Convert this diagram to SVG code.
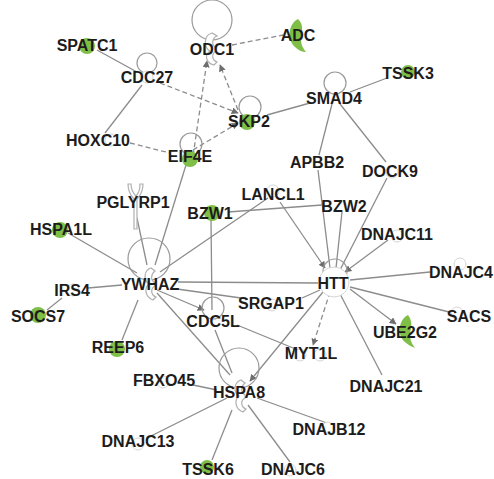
<svg xmlns="http://www.w3.org/2000/svg" width="494" height="479" viewBox="0 0 494 479">
<style>
.e{stroke:#8c8c8c;stroke-width:1.3;fill:none}
.d{stroke:#8c8c8c;stroke-width:1.3;fill:none;stroke-dasharray:5 3}
.a{marker-end:url(#arr)}
.loop{stroke:#9a9a9a;stroke-width:1.2;fill:none}
.ring{stroke:#d6d6d6;stroke-width:1;fill:#fff}
.g{fill:#7fbf48}
.sh{stroke:#b0b0b0;stroke-width:1.2;fill:#fff}
text{font-family:"Liberation Sans",Arial,sans-serif;font-weight:bold;font-size:16px;fill:#1c1c1c;text-anchor:middle}
</style>
<defs>
<marker id="arr" viewBox="0 0 10 10" refX="9" refY="5" markerWidth="7" markerHeight="7" orient="auto" markerUnits="userSpaceOnUse">
<path d="M0,0 L10,5 L0,10 z" fill="#6e6e6e"/>
</marker>
</defs>
<rect width="494" height="479" fill="#fff"/>
<g id="connectors">
<line class="e" x1="97" y1="50" x2="137" y2="72"/>
<line class="e" x1="142" y1="85" x2="105" y2="133"/>
<line class="d a" x1="160" y1="83" x2="238" y2="113"/>
<line class="d" x1="130" y1="143" x2="170" y2="153"/>
<line class="d a" x1="192" y1="163" x2="207" y2="61"/>
<line class="d a" x1="238" y1="110" x2="220" y2="65"/>
<line class="d a" x1="193" y1="150" x2="238" y2="123"/>
<line class="d" x1="232" y1="45" x2="283" y2="35"/>
<line class="e" x1="267" y1="115" x2="310" y2="103"/>
<line class="e" x1="350" y1="92" x2="387" y2="78"/>
<line class="e" x1="332" y1="104" x2="319" y2="155"/>
<line class="e" x1="340" y1="104" x2="386" y2="162"/>
<line class="e" x1="318" y1="170" x2="330" y2="268"/>
<line class="e" x1="387" y1="178" x2="340" y2="270"/>
<line class="e a" x1="388" y1="240" x2="345" y2="272"/>
<line class="e a" x1="280" y1="202" x2="325" y2="268"/>
<line class="e" x1="268" y1="198" x2="160" y2="272"/>
<line class="e" x1="228" y1="212" x2="322" y2="205"/>
<line class="e" x1="342" y1="212" x2="336" y2="268"/>
<line class="e" x1="211" y1="220" x2="212" y2="310"/>
<line class="e" x1="186" y1="165" x2="155" y2="265"/>
<line class="e" x1="137" y1="218" x2="147" y2="265"/>
<line class="e" x1="68" y1="233" x2="137" y2="273"/>
<line class="e" x1="88" y1="288" x2="122" y2="285"/>
<line class="e" x1="47" y1="310" x2="62" y2="298"/>
<line class="e" x1="178" y1="282" x2="318" y2="283"/>
<line class="e" x1="177" y1="289" x2="248" y2="299"/>
<line class="e" x1="302" y1="298" x2="320" y2="290"/>
<line class="e a" x1="157" y1="290" x2="204" y2="310"/>
<line class="e" x1="157" y1="293" x2="230" y2="375"/>
<line class="e" x1="138" y1="300" x2="122" y2="340"/>
<line class="e" x1="215" y1="330" x2="232" y2="373"/>
<line class="e" x1="237" y1="325" x2="298" y2="350"/>
<line class="d a" x1="330" y1="292" x2="313" y2="345"/>
<line class="e a" x1="323" y1="292" x2="250" y2="381"/>
<line class="e" x1="350" y1="280" x2="430" y2="272"/>
<line class="e" x1="350" y1="287" x2="453" y2="313"/>
<line class="e a" x1="350" y1="289" x2="396" y2="324"/>
<line class="e" x1="338" y1="290" x2="382" y2="375"/>
<line class="e" x1="193" y1="385" x2="217" y2="390"/>
<line class="e" x1="227" y1="398" x2="147" y2="438"/>
<line class="e" x1="232" y1="410" x2="212" y2="460"/>
<line class="e" x1="248" y1="405" x2="290" y2="462"/>
<line class="e" x1="257" y1="398" x2="327" y2="423"/>
</g>
<g id="ODC1"><circle class="loop" cx="212" cy="20" r="20"/><path class="sh" d="M212,33 c-8,2 -9,14 -2,18 c-6,4 -4,12 4,14 l3,-3 c-5,-2 -6,-8 -1,-11 l0,-3 c-5,-3 -4,-10 1,-12 z"/><text x="212" y="55">ODC1</text></g>
<g id="ADC"><path class="g" d="M298,19 C288,24 287,40 295,47 C298,50 302,52 306,52 C303,48 301,45 301,40 C301,34 305,25 298,19 z"/><text x="298" y="41">ADC</text></g>
<g id="SPATC1"><circle class="g" cx="87" cy="46" r="8"/><text x="87" y="51">SPATC1</text></g>
<g id="CDC27"><circle class="loop" cx="147" cy="63" r="10"/><circle class="ring" cx="147" cy="77" r="6"/><text x="147" y="83">CDC27</text></g>
<g id="HOXC10"><circle class="ring" cx="111" cy="140" r="6"/><text x="98" y="146">HOXC10</text></g>
<g id="EIF4E"><circle class="loop" cx="191" cy="144" r="11"/><circle class="g" cx="190" cy="159" r="8"/><text x="190" y="162">EIF4E</text></g>
<g id="SKP2"><circle class="loop" cx="250" cy="107" r="11"/><circle class="g" cx="247" cy="122" r="8"/><text x="249" y="127">SKP2</text></g>
<g id="SMAD4"><circle class="loop" cx="335" cy="83" r="11"/><text x="334" y="104">SMAD4</text></g>
<g id="TSSK3"><circle class="g" cx="408" cy="72" r="7"/><text x="408" y="79">TSSK3</text></g>
<g id="APBB2"><text x="317" y="168">APBB2</text></g>
<g id="DOCK9"><circle class="ring" cx="392" cy="172" r="6"/><text x="390" y="177">DOCK9</text></g>
<g id="PGLYRP1"><path class="sh" d="M128,184 c0,8 3,12 6,15 v30 h3 v-30 c3,-3 6,-7 6,-15 h-3 c0,7 -2,10 -4,12 c-2,-2 -5,-5 -5,-12 z"/><text x="133" y="208">PGLYRP1</text></g>
<g id="LANCL1"><circle class="ring" cx="273" cy="191" r="6"/><text x="273" y="200">LANCL1</text></g>
<g id="BZW1"><circle class="g" cx="212" cy="213" r="8"/><text x="210" y="219">BZW1</text></g>
<g id="BZW2"><text x="344" y="212">BZW2</text></g>
<g id="HSPA1L"><circle class="g" cx="60" cy="230" r="8"/><text x="61" y="235">HSPA1L</text></g>
<g id="DNAJC11"><circle class="ring" cx="397" cy="236" r="6"/><text x="397" y="240">DNAJC11</text></g>
<g id="YWHAZ"><circle class="loop" cx="149" cy="259" r="21"/><path class="sh" d="M151,268 c-7,2 -8,12 -2,16 c-5,4 -4,13 4,16 l3,-3 c-5,-2 -6,-8 -1,-11 l0,-3 c-5,-3 -4,-9 0,-12 z"/><text x="150" y="290">YWHAZ</text></g>
<g id="HTT"><circle class="loop" cx="335" cy="271" r="12"/><circle class="ring" cx="334" cy="282" r="15"/><text x="333" y="289">HTT</text></g>
<g id="DNAJC4"><circle class="ring" cx="460" cy="264" r="6"/><text x="461" y="278">DNAJC4</text></g>
<g id="IRS4"><circle class="ring" cx="73" cy="290" r="6"/><text x="72" y="296">IRS4</text></g>
<g id="SOCS7"><circle class="g" cx="38" cy="315" r="8"/><text x="38" y="322">SOCS7</text></g>
<g id="SRGAP1"><circle class="ring" cx="272" cy="305" r="6"/><text x="271" y="309">SRGAP1</text></g>
<g id="CDC5L"><circle class="loop" cx="213" cy="308" r="11"/><text x="213" y="327">CDC5L</text></g>
<g id="SACS"><circle class="ring" cx="457" cy="313" r="6"/><text x="469" y="322">SACS</text></g>
<g id="UBE2G2"><path class="g" d="M408,315 C398,320 397,336 405,342 C408,345 412,347 415,348 C412,344 410,340 410,336 C410,330 414,322 408,315 z"/><text x="405" y="338">UBE2G2</text></g>
<g id="REEP6"><circle class="g" cx="117" cy="349" r="8"/><text x="118" y="353">REEP6</text></g>
<g id="MYT1L"><circle class="ring" cx="300" cy="355" r="6"/><circle class="ring" cx="320" cy="355" r="6"/><text x="311" y="359">MYT1L</text></g>
<g id="FBXO45"><circle class="ring" cx="163" cy="382" r="6"/><text x="164" y="386">FBXO45</text></g>
<g id="HSPA8"><circle class="loop" cx="239" cy="368" r="20"/><path class="sh" d="M241,380 c-7,2 -8,12 -2,16 c-5,4 -4,13 4,16 l3,-3 c-5,-2 -6,-8 -1,-11 l0,-3 c-5,-3 -4,-9 0,-12 z"/><text x="239" y="398">HSPA8</text></g>
<g id="DNAJC21"><text x="386" y="392">DNAJC21</text></g>
<g id="DNAJB12"><circle class="ring" cx="328" cy="428" r="6"/><text x="329" y="435">DNAJB12</text></g>
<g id="DNAJC13"><circle class="ring" cx="138" cy="444" r="6"/><text x="138" y="447">DNAJC13</text></g>
<g id="TSSK6"><circle class="g" cx="207" cy="467" r="7"/><text x="208" y="475">TSSK6</text></g>
<g id="DNAJC6"><circle class="ring" cx="290" cy="470" r="6"/><text x="293" y="475">DNAJC6</text></g>
</svg>
